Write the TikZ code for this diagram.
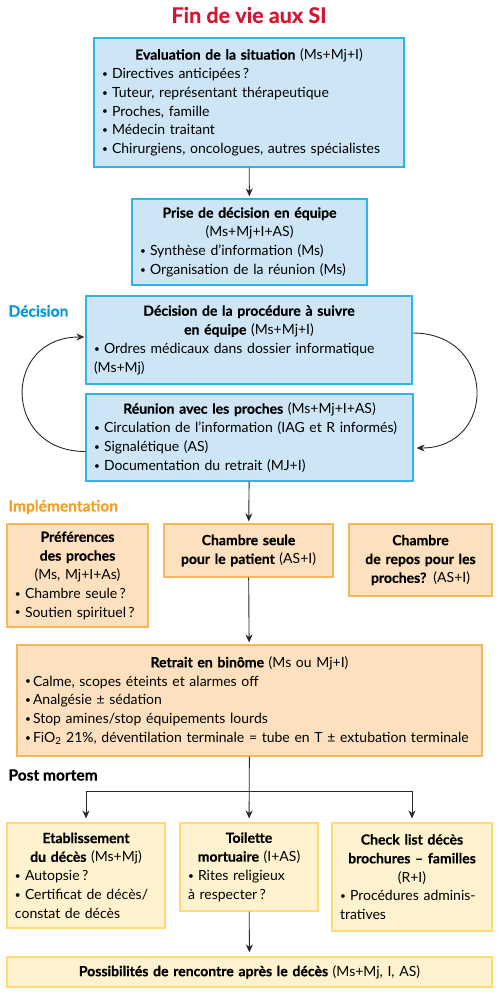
\documentclass[tikz,border=0pt]{standalone}
\usepackage{fontspec}
\setmainfont{Lato}[BoldFeatures={FakeBold=0.5}]
\usetikzlibrary{arrows.meta,calc}
\definecolor{bfill}{RGB}{205,229,245}
\definecolor{bline}{RGB}{45,180,235}
\definecolor{ofill}{RGB}{253,224,190}
\definecolor{oline}{RGB}{248,182,90}
\definecolor{yfill}{RGB}{255,242,206}
\definecolor{yline}{RGB}{253,220,115}
\definecolor{tred}{RGB}{213,22,48}
\definecolor{tblue}{RGB}{0,152,218}
\definecolor{torange}{RGB}{244,160,40}
\definecolor{arrc}{RGB}{40,40,40}
\newcommand\smbul{\raisebox{0.15ex}{\fontsize{10}{10}\selectfont\textbullet}}
\newcommand\itm[2][10pt]{\par\hangindent=#1\hangafter=1\noindent\makebox[#1][l]{\smbul}#2}
\newcommand\ttl[1]{{\centering #1\par}}
\tikzset{
  box/.style={draw, line width=1.2pt, inner xsep=8pt, inner ysep=0pt, align=left,
    font=\fontsize{14}{18.8}\selectfont},
  bluebox/.style={box, draw=bline, fill=bfill},
  orbox/.style={box, draw=oline, fill=ofill},
  yebox/.style={box, draw=yline, fill=yfill},
  arr/.style={draw=arrc, line width=0.9pt, -{Stealth[length=8pt,width=7pt]}, shorten >=2pt},
  lbl/.style={anchor=west, font=\fontsize{15.5}{17}\selectfont\bfseries}
}
\begin{document}
\begin{tikzpicture}[x=1pt,y=-1pt]
\useasboundingbox (0,0) rectangle (499,994);
\node[font=\fontsize{21.5}{24}\selectfont\bfseries, text=tred] (title) at (249,15) {Fin de vie aux SI};

\node[bluebox, text width=294pt, minimum height=129pt] (eval) at (249,102.5) {%
\ttl{\textbf{Evaluation de la situation} (Ms+Mj+I)}
\itm{Directives anticipées\,?}
\itm{Tuteur, représentant thérapeutique}
\itm{Proches, famille}
\itm{Médecin traitant}
\itm{Chirurgiens, oncologues, autres spécialistes}};

\node[bluebox, text width=219pt, minimum height=86pt] (prise) at (249.5,242) {%
\ttl{\textbf{Prise de décision en équipe}\\(Ms+Mj+I+AS)}
\itm{Synthèse d’information (Ms)}
\itm{Organisation de la réunion (Ms)}};

\node[lbl, text=tblue] (ldec) at (5,311) {Décision};

\node[bluebox, text width=310pt, minimum height=88pt] (dec) at (249,340) {%
\ttl{\textbf{Décision de la procédure à suivre}\\\textbf{en équipe} (Ms+Mj+I)}
\itm{Ordres médicaux dans dossier informatique\\(Ms+Mj)}};

\node[bluebox, text width=311pt, minimum height=87pt] (reu) at (249.5,437.5) {%
\ttl{\textbf{Réunion avec les proches} (Ms+Mj+I+AS)}
\itm{Circulation de l’information (IAG et R informés)}
\itm{Signalétique (AS)}
\itm{Documentation du retrait (MJ+I)}};

\node[lbl, text=torange] (limp) at (5,507) {Implémentation};

\node[orbox, text width=125pt, minimum height=103pt] (pref) at (77.5,575.5) {%
\ttl{\textbf{Préférences}\\\textbf{des proches}\\(Ms, Mj+I+As)}
\itm{Chambre seule\,?}
\itm{Soutien spirituel\,?}};

\node[orbox, text width=153pt, minimum height=53pt] (ch1) at (248.5,550.5) {%
\ttl{\textbf{Chambre seule}\\\textbf{pour le patient} (AS+I)}};

\node[orbox, text width=127pt, minimum height=72pt] (ch2) at (420.5,560) {%
\ttl{\textbf{Chambre}\\\textbf{de repos pour les}\\\textbf{proches?} (AS+I)}};

\node[orbox, text width=449pt, minimum height=111pt] (retr) at (249.5,700.5) {%
\ttl{\textbf{Retrait en binôme} (Ms ou Mj+I)}
\itm[8pt]{Calme, scopes éteints et alarmes off}
\itm[8pt]{Analgésie ± sédation}
\itm[8pt]{Stop amines/stop équipements lourds}
\itm[8pt]{FiO\textsubscript{2} 21\%, déventilation terminale = tube en T ± extubation terminale}};

\node[lbl] (lpm) at (5,775) {Post mortem};

\node[yebox, text width=142pt, minimum height=105pt] (etab) at (86,875.5) {%
\ttl{\textbf{Etablissement}\\\textbf{du décès} (Ms+Mj)}
\itm{Autopsie\,?}
\itm{Certificat de décès/\\constat de décès}};

\node[yebox, text width=122pt, minimum height=88pt] (toil) at (249,867) {%
\ttl{\textbf{Toilette}\\\textbf{mortuaire} (I+AS)}
\itm{Rites religieux\\à respecter\,?}};

\node[yebox, text width=144pt, minimum height=108pt] (check) at (412,877) {%
\ttl{\textbf{Check list décès}\\\textbf{brochures – familles}\\(R+I)}
\itm{Procédures adminis-\\tratives}};

\node[yebox, text width=469pt, minimum height=30pt] (poss) at (249.5,972) {%
\ttl{\textbf{Possibilités de rencontre après le décès} (Ms+Mj, I, AS)}};

\draw[arr] (eval) -- (prise);
\draw[arr] (reu) -- (ch1);
\draw[arr] (ch1) -- (retr);
\coordinate (fork) at (249,791);
\draw[arr, shorten >=4pt] (retr) -- (toil);
\draw[arr, shorten >=4pt] (fork) -| (etab.north);
\draw[arr, shorten >=4pt] (fork) -| (check.north);
\draw[arr, shorten >=4pt] (toil) -- (poss);
\draw[arr, shorten >=1pt] ($(reu.west)+(0,14)$) .. controls (2,451.5) and (2,337) .. ($(dec.west)+(0,-3)$);
\draw[arr, shorten >=3pt] ($(dec.east)+(0,-7)$) .. controls (497,333) and (497,448) .. ($(reu.east)+(0,10.5)$);
\end{tikzpicture}
\end{document}
